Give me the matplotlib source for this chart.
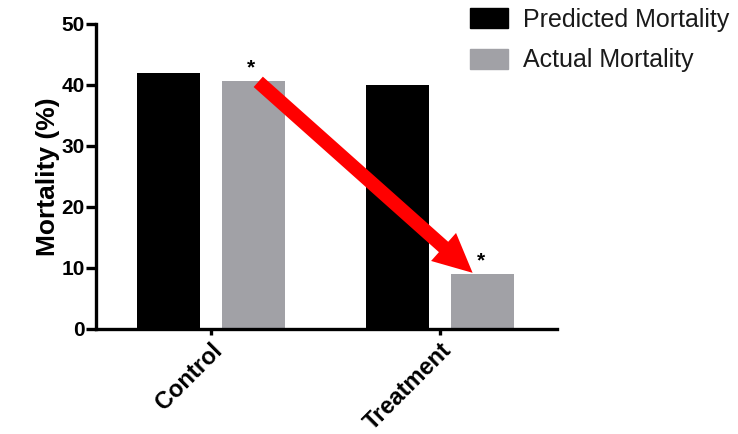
import numpy as np
import matplotlib
matplotlib.use('Agg')
import matplotlib.pyplot as plt
from matplotlib.patches import Patch

plt.rcParams['font.family'] = ['Liberation Sans', 'DejaVu Sans']

groups = ['Control', 'Treatment']
predicted = [42.0, 40.0]
actual = [40.7, 9.0]
series_names = ['Predicted Mortality', 'Actual Mortality']
colors = ['#000000', '#a1a1a6']

x = np.arange(len(groups))
w = 0.275
off = 0.186

fig = plt.figure(figsize=(7.38, 4.34), dpi=100)
ax = fig.add_axes([0.130, 0.242, 0.625, 0.703])

ax.bar(x - off, predicted, w, color=colors[0], label=series_names[0])
ax.bar(x + off, actual, w, color=colors[1], label=series_names[1])

# significance stars over the actual bars
for xi, v in zip(x + off, actual):
    ax.text(xi - 0.01, v + 0.6, '*', ha='center', va='bottom', fontsize=15, fontweight='bold')

# red arrow from control actual down to treatment actual
ax.annotate('', xy=(x[1] + off - 0.045, actual[1] + 0.2),
            xytext=(x[0] + off + 0.02, actual[0] - 0.2),
            arrowprops=dict(arrowstyle='simple,head_width=27,head_length=28,tail_width=10',
                            mutation_scale=1, color='#ff0000', lw=0,
                            shrinkA=0, shrinkB=0))

ax.set_xlim(-0.502, 1.51)
ax.set_ylim(0, 50)
ax.set_yticks([0, 10, 20, 30, 40, 50])
ax.set_xticks(x)
ax.set_xticklabels(groups, rotation=45, ha='right', rotation_mode='anchor',
                   fontsize=17, fontweight='bold')
for lab in ax.get_yticklabels():
    lab.set_fontweight('bold')
ax.tick_params(axis='y', labelsize=15, width=2.4, length=7, pad=1)
ax.tick_params(axis='x', width=2.4, length=4, pad=3)
ax.set_ylabel('Mortality (%)', fontsize=19, fontweight='bold', labelpad=1)

for s in ['top', 'right']:
    ax.spines[s].set_visible(False)
for s in ['left', 'bottom']:
    ax.spines[s].set_linewidth(2.4)

handles = [Patch(color=c) for c in colors]
fig.legend(handles, series_names, loc='upper left', bbox_to_anchor=(470 / 738, 1 - 8 / 434),
           frameon=False, fontsize=18, handlelength=1.52, handleheight=0.85,
           handletextpad=0.6, labelspacing=0.66, borderpad=0, borderaxespad=0,
           labelcolor='#1a1a1a')

fig.savefig('out.png', dpi=100)
